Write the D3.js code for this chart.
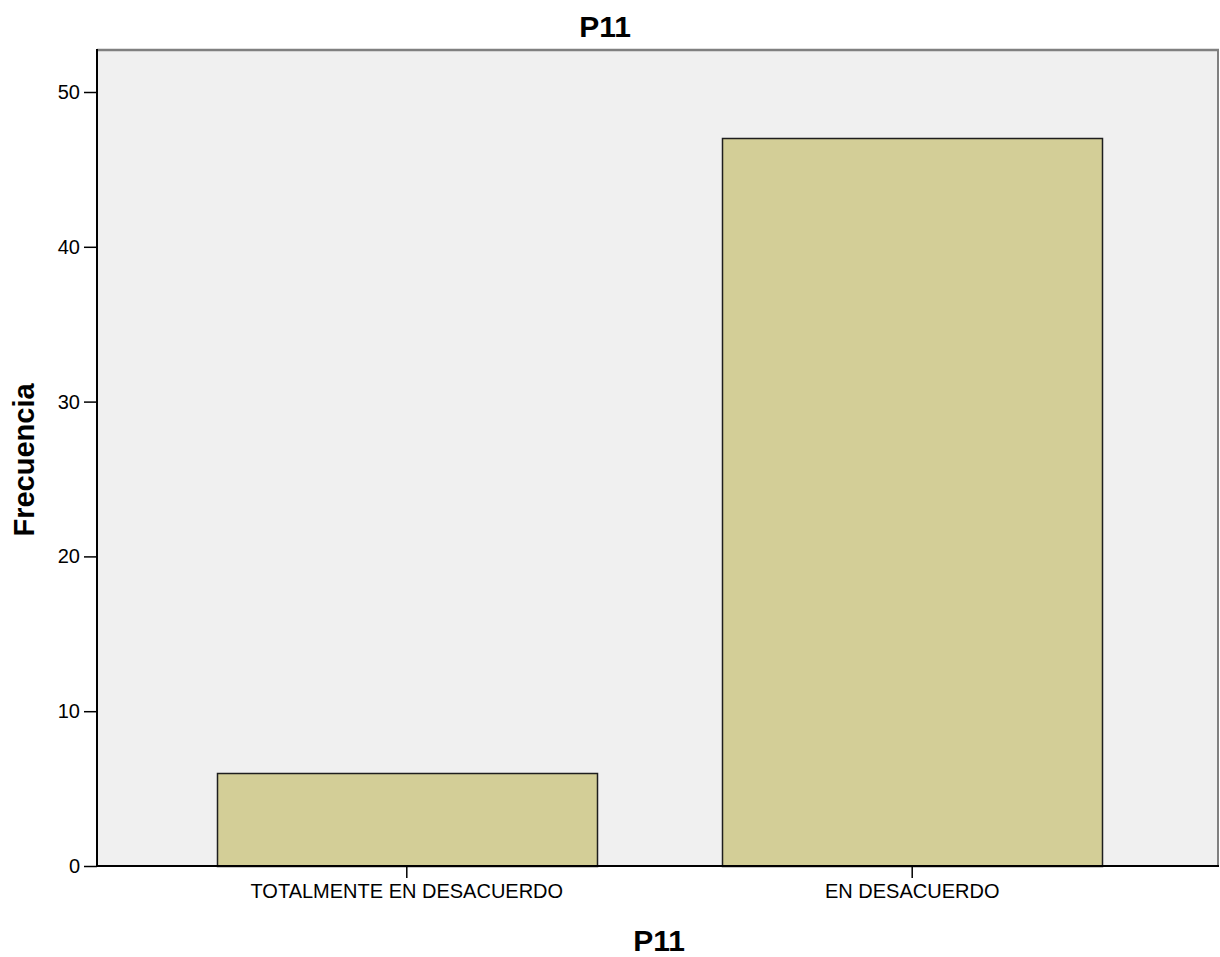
<!DOCTYPE html>
<html>
<head>
<meta charset="utf-8">
<script src="https://cdn.jsdelivr.net/npm/d3@7"></script>
<style>
  html, body { margin: 0; padding: 0; background: #ffffff; }
  svg { display: block; font-family: "Liberation Sans", Arial, sans-serif; }
</style>
</head>
<body>
<svg id="chart" width="1220" height="957"></svg>
<script>
const categories = ["TOTALMENTE EN DESACUERDO", "EN DESACUERDO"];
const values = [6, 47];
const yTicks = [0, 10, 20, 30, 40, 50];
const chartTitle = "P11";
const xTitle = "P11";
const yTitle = "Frecuencia";

const svg = d3.select("#chart");
const plot = { left: 97, right: 1218, top: 50, bottom: 866 };

const y = d3.scaleLinear()
  .domain([0, 50 * (866 - 50) / (866 - 92)])
  .range([plot.bottom, plot.top]);

const x = d3.scaleBand()
  .domain(categories)
  .range([plot.left + 2, plot.right + 2])
  .paddingInner(0.248)
  .paddingOuter(0.233);

// plot background
svg.append("rect")
  .attr("x", plot.left).attr("y", plot.top)
  .attr("width", plot.right - plot.left).attr("height", plot.bottom - plot.top)
  .attr("fill", "#f0f0f0");

// top and right frame lines (gray)
svg.append("line")
  .attr("x1", plot.left).attr("x2", plot.right + 1)
  .attr("y1", plot.top).attr("y2", plot.top)
  .attr("stroke", "#808080").attr("stroke-width", 2.5);
svg.append("line")
  .attr("x1", plot.right).attr("x2", plot.right)
  .attr("y1", plot.top).attr("y2", plot.bottom)
  .attr("stroke", "#808080").attr("stroke-width", 2);

// bars
svg.append("g").selectAll("rect")
  .data(categories.map((c, i) => ({ c, v: values[i] })))
  .join("rect")
  .attr("x", d => Math.round(x(d.c)) + 0.5)
  .attr("y", d => Math.round(y(d.v)) + 0.5)
  .attr("width", d => Math.round(x.bandwidth()))
  .attr("height", d => Math.round(y(0) - y(d.v)))
  .attr("fill", "#d3ce97")
  .attr("stroke", "#1e1e1e")
  .attr("stroke-width", 1.5);

// y axis
const yAxis = d3.axisLeft(y).tickValues(yTicks).tickSize(13).tickPadding(4).tickFormat(d3.format("d"));
const gy = svg.append("g").attr("transform", `translate(${plot.left},0)`).call(yAxis);
gy.select(".domain").remove();
gy.selectAll(".tick line").attr("stroke", "#000").attr("stroke-width", 1.5);
gy.selectAll(".tick text").attr("font-size", 20).attr("fill", "#000")
  .attr("font-family", "'Liberation Sans', Arial, sans-serif");
svg.append("line")
  .attr("x1", plot.left).attr("x2", plot.left)
  .attr("y1", plot.top - 1).attr("y2", plot.bottom + 1)
  .attr("stroke", "#000").attr("stroke-width", 2);

// x axis
const xAxis = d3.axisBottom(x).tickSize(12).tickPadding(6);
const gx = svg.append("g").attr("transform", `translate(0,${plot.bottom})`).call(xAxis);
gx.select(".domain").remove();
gx.selectAll(".tick line").attr("stroke", "#000").attr("stroke-width", 1.5);
gx.selectAll(".tick text").attr("font-size", 20).attr("fill", "#000")
  .attr("font-family", "'Liberation Sans', Arial, sans-serif");
svg.append("line")
  .attr("x1", plot.left - 1).attr("x2", plot.right + 1)
  .attr("y1", plot.bottom).attr("y2", plot.bottom)
  .attr("stroke", "#000").attr("stroke-width", 2);

// titles
svg.append("text")
  .attr("x", 605).attr("y", 37)
  .attr("text-anchor", "middle")
  .attr("font-size", 30).attr("font-weight", "bold")
  .text(chartTitle);

svg.append("text")
  .attr("x", 659).attr("y", 951)
  .attr("text-anchor", "middle")
  .attr("font-size", 30).attr("font-weight", "bold")
  .text(xTitle);

svg.append("text")
  .attr("transform", "translate(34,460) rotate(-90)")
  .attr("text-anchor", "middle")
  .attr("font-size", 29).attr("font-weight", "bold")
  .text(yTitle);
</script>
</body>
</html>
